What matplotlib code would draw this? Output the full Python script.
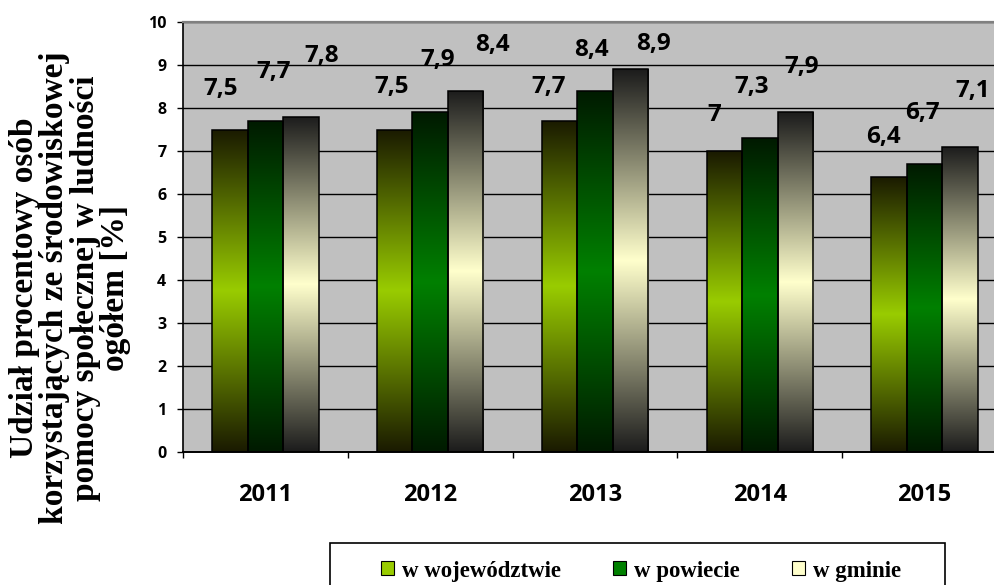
import numpy as np
import matplotlib
matplotlib.use("Agg")
import matplotlib.pyplot as plt
from matplotlib.colors import LinearSegmentedColormap
from matplotlib.patches import Patch, Rectangle

years = ["2011", "2012", "2013", "2014", "2015"]
series_names = ["w województwie", "w powiecie", "w gminie"]
woj = [7.5, 7.5, 7.7, 7.0, 6.4]
pow_ = [7.7, 7.9, 8.4, 7.3, 6.7]
gmi = [7.8, 8.4, 8.9, 7.9, 7.1]
values = [woj, pow_, gmi]

# gradient colours (end, middle, end) for each series
grad = [("#1a1a00", "#99cc00"), ("#001a00", "#008000"), ("#1c1c1c", "#ffffcc")]

# label offsets in pixels (dx, dy above bar top) - excel put them by hand
lab_off = [
    [(-9, 41), (-3, 42), (-11, 34), (-10, 36), (-6, 40)],
    [(8, 49), (7, 52), (-4, 41), (-8, 51), (-2, 51)],
    [(21, 61), (27, 46), (23, 25), (6, 45), (13, 56)],
]

num_font = "Open Sans"
serif = "Liberation Serif"

fig = plt.figure(figsize=(9.95, 5.85), dpi=100)
ax = fig.add_axes([183/995, 1-452/585, 824/995, 430/585])
ax.set_facecolor("#c0c0c0")

x = np.arange(len(years))
w = 0.2155
grad_img = np.linspace(0, 1, 256).reshape(-1, 1)

for i, vals in enumerate(values):
    pos = x + (i - 1) * w
    bars = ax.bar(pos, vals, w, facecolor="none", edgecolor="black", linewidth=1.1, zorder=3)
    cmap = LinearSegmentedColormap.from_list("g%d" % i, [grad[i][0], grad[i][1], grad[i][0]])
    for j, b in enumerate(bars):
        bx, bw, bh = b.get_x(), b.get_width(), b.get_height()
        im = ax.imshow(grad_img, cmap=cmap, extent=[bx, bx + bw, 0, bh], aspect="auto",
                       origin="lower", zorder=2, interpolation="bilinear")
        im.set_clip_path(b)
        dx, dy = lab_off[i][j]
        txt = ("%g" % vals[j]).replace(".", ",")
        ax.annotate(txt, xy=(pos[j], vals[j]), xytext=(dx, dy), textcoords="offset pixels",
                    ha="center", va="center", fontsize=17.5, fontweight="bold",
                    family=num_font, zorder=5)

ax.set_xlim(-0.5, len(years) - 0.5)
ax.set_ylim(0, 10)
ax.set_yticks(range(0, 11))
ax.yaxis.grid(True, color="black", linewidth=1.0)
ax.set_axisbelow(True)

ax.set_xticks(x)
ax.set_xticklabels(years)
ax.set_xticks(np.arange(-0.5, len(years)), minor=True)
ax.tick_params(axis="x", which="major", length=0, pad=22)
ax.tick_params(axis="x", which="minor", length=4, width=1, direction="out")
ax.tick_params(axis="y", length=4, width=1, direction="out", pad=8)
for lab in ax.get_xticklabels():
    lab.set_family(num_font)
    lab.set_fontweight("bold")
    lab.set_fontsize(17)
for lab in ax.get_yticklabels():
    lab.set_family(num_font)
    lab.set_fontweight("bold")
    lab.set_fontsize(11.5)

ax.spines["top"].set_color("#808080")
ax.spines["top"].set_linewidth(1.6)
ax.spines["right"].set_visible(False)
ax.spines["left"].set_linewidth(1.2)
ax.spines["bottom"].set_linewidth(1.4)

fig.text(70/995, 1-288/585,
         "Udział procentowy osób\nkorzystających ze środowiskowej\npomocy społecznej w ludności\nogółem [%]",
         rotation=90, ha="center", va="center", multialignment="center",
         family=serif, fontweight="bold", fontsize=24, linespacing=0.98)

# legend
handles = [Patch(facecolor=g[1], edgecolor="black", linewidth=0.8) for g in grad]
fig.legend(handles, series_names, loc="center", bbox_to_anchor=(641/995, 1-571/585),
           ncol=3, frameon=False, prop={"family": serif, "weight": "bold", "size": 16.5},
           handlelength=0.55, handleheight=0.55, handletextpad=0.35, columnspacing=2.3)
fig.patches.append(Rectangle((330/995, -0.05), 615/995, 0.05 + 42/585, transform=fig.transFigure,
                             facecolor="none", edgecolor="black", linewidth=1.2))

fig.savefig("out.png", dpi=100)
